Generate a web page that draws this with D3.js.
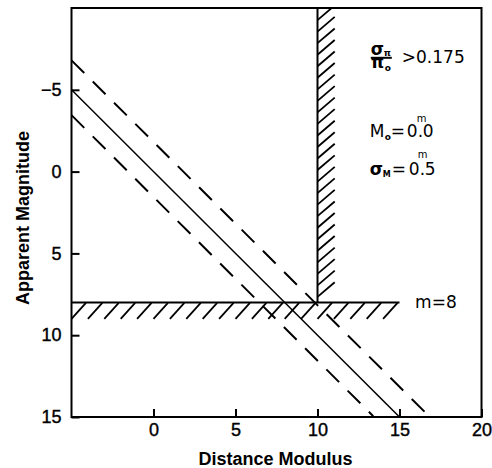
<!DOCTYPE html>
<html><head><meta charset="utf-8">
<script src="https://cdn.jsdelivr.net/npm/d3@7"></script>
<style>body{margin:0;background:#fff} text{font-family:"Liberation Sans",Arial,sans-serif;fill:#000}</style>
</head><body>
<svg id="c" width="492" height="468"></svg>
<script>
// ---- data ----
const xDomain = [-5, 20];
const yDomain = [-10, 15];
const xTicks = [0, 5, 10, 15, 20];
const yTicks = [-5, 0, 5, 10, 15];
const meanMu = [-5, 15];        // m = M0 + mu, M0 = 0
const meanM = [-5, 15];
const brightMu = [-5, 16.6];    // upper dashed envelope
const brightM = [-6.8, 14.75];
const faintMu = [-5, 13.4];     // lower dashed envelope
const faintM = [-3.45, 14.95];
const parallaxLimitMu = 10;     // sigma_pi / pi0 > 0.175
const magLimit = 8;             // m = 8
const magLimitMu = [-5, 15];

// ---- chart ----
const svg = d3.select("#c");
const x = d3.scaleLinear().domain(xDomain).range([71.5, 481.5]);
const y = d3.scaleLinear().domain(yDomain).range([8, 417]);

svg.append("defs").append("clipPath").attr("id", "clip")
  .append("rect").attr("x", x(xDomain[0])).attr("y", y(yDomain[0]))
  .attr("width", x(xDomain[1]) - x(xDomain[0])).attr("height", y(yDomain[1]) - y(yDomain[0]));

const plot = svg.append("g").attr("clip-path", "url(#clip)");
const line = d3.line().x(d => x(d[0])).y(d => y(d[1]));

// hatching: vertical limit
const vHatch = d3.range(0, 26).map(k => magLimit - 0.34 - 0.705 * k);
plot.append("g").selectAll("line").data(vHatch).join("line")
  .attr("x1", x(parallaxLimitMu)).attr("y1", d => y(d))
  .attr("x2", x(parallaxLimitMu + 1.05)).attr("y2", d => y(d - 0.9))
  .attr("stroke", "#000").attr("stroke-width", 1.8);
// hatching: horizontal limit
const hHatch = d3.range(magLimitMu[0], magLimitMu[1]);
plot.append("g").selectAll("line").data(hHatch).join("line")
  .attr("x1", d => x(d)).attr("y1", y(magLimit + 1.0))
  .attr("x2", d => x(d + 0.88)).attr("y2", y(magLimit + 0.02))
  .attr("stroke", "#000").attr("stroke-width", 1.8);

// limit lines
plot.append("path").attr("d", line([[parallaxLimitMu, yDomain[0]], [parallaxLimitMu, magLimit]]))
  .attr("stroke", "#000").attr("stroke-width", 2).attr("fill", "none");
plot.append("path").attr("d", line(magLimitMu.map(mu => [mu, magLimit])))
  .attr("stroke", "#000").attr("stroke-width", 2).attr("fill", "none");

// relations
plot.append("path").attr("d", line(meanMu.map((mu, i) => [mu, meanM[i]])))
  .attr("stroke", "#000").attr("stroke-width", 1.5).attr("fill", "none");
plot.append("path").attr("d", line(brightMu.map((mu, i) => [mu, brightM[i]])))
  .attr("stroke", "#000").attr("stroke-width", 2).attr("fill", "none").attr("stroke-dasharray", "18,12");
plot.append("path").attr("d", line(faintMu.map((mu, i) => [mu, faintM[i]])))
  .attr("stroke", "#000").attr("stroke-width", 2).attr("fill", "none").attr("stroke-dasharray", "18,12");

// axes
const fs = 18;
const xAxis = svg.append("g").attr("transform", `translate(0,${y(yDomain[1])})`)
  .call(d3.axisBottom(x).tickValues(xTicks).tickSize(-8).tickPadding(6));
const yAxis = svg.append("g").attr("transform", `translate(${x(xDomain[0])},0)`)
  .call(d3.axisLeft(y).tickValues(yTicks).tickSize(-8).tickPadding(10));
[xAxis, yAxis].forEach(a => {
  a.select(".domain").remove();
  a.selectAll(".tick line").attr("stroke", "#000").attr("stroke-width", 2);
  a.selectAll(".tick text").attr("font-size", fs).attr("font-family", '"Liberation Sans",Arial,sans-serif')
    .attr("fill", "#000").attr("stroke", "#000").attr("stroke-width", 0.4);
});

// frame
svg.append("rect").attr("x", x(xDomain[0])).attr("y", y(yDomain[0]))
  .attr("width", x(xDomain[1]) - x(xDomain[0])).attr("height", y(yDomain[1]) - y(yDomain[0]))
  .attr("fill", "none").attr("stroke", "#000").attr("stroke-width", 2);

// axis titles
svg.append("text").attr("x", (x(xDomain[0]) + x(xDomain[1])) / 2 - 1).attr("y", 465)
  .attr("text-anchor", "middle").attr("font-size", fs).attr("font-weight", "bold").text("Distance Modulus");
svg.append("text").attr("transform", `translate(28.5,218) rotate(-90)`)
  .attr("text-anchor", "middle").attr("font-size", fs).attr("font-weight", "bold").text("Apparent Magnitude");

// annotations
const g = svg.append("g").style("font-family", '"DejaVu Sans",sans-serif');
const t = (px, py, size, str, bold) => g.append("text").attr("x", px).attr("y", py)
  .attr("font-size", size).attr("font-weight", bold ? "bold" : "normal")
  .style("font-family", '"DejaVu Sans",sans-serif').text(str);
const ax = x(13.25);
// fraction sigma_pi / pi_0
t(ax, 55, 17, "σ", true);
t(ax + 13, 56, 9, "π", true);
g.append("line").attr("x1", ax).attr("x2", ax + 21).attr("y1", 57.8).attr("y2", 57.8).attr("stroke", "#000").attr("stroke-width", 2);
t(ax, 68, 17, "π", true);
t(ax + 14, 71, 9, "o", true);
t(ax + 31, 63, 17, ">0.175", false);
// M0 = 0.0 m
t(ax - 1, 137, 17, "M", false);
t(ax + 14, 140, 9, "o", true);
t(ax + 20, 137, 17, "=", false);
t(ax + 36, 137, 17, "0", false);
t(ax + 46, 122, 10, "m", false);
t(ax + 47, 137, 17, ".", false);
t(ax + 52, 137, 17, "0", false);
// sigma_M = 0.5 m
t(ax - 1, 175, 17, "σ", true);
t(ax + 12, 177, 8, "M", true);
t(ax + 21, 175, 17, "=", false);
t(ax + 38, 175, 17, "0", false);
t(ax + 47, 158, 10, "m", false);
t(ax + 49, 175, 17, ".", false);
t(ax + 54, 175, 17, "5", false);
// m = 8
t(x(15.95), y(magLimit) + 6, 17, "m=8", false);
</script>
</body></html>
